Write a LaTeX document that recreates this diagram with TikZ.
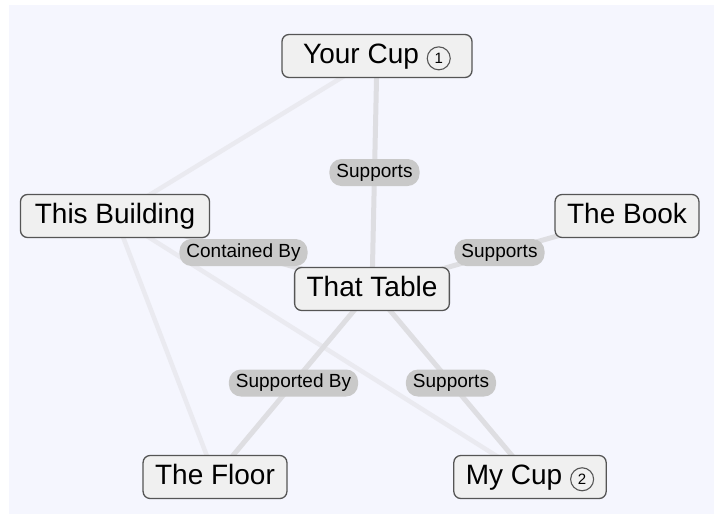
\documentclass[tikz,border=0pt]{standalone}
\usepackage{fontspec}
\setmainfont{Liberation Sans}
\definecolor{panel}{RGB}{245,246,254}
\definecolor{boxfill}{RGB}{240,240,240}
\definecolor{boxline}{RGB}{85,85,85}
\definecolor{pill}{RGB}{201,201,201}
\definecolor{tiecolor}{RGB}{222,222,226}
\definecolor{faintcolor}{RGB}{234,234,240}
\pgfdeclarelayer{back}
\pgfsetlayers{back,main}
\newcommand{\numring}[1]{\tikz[baseline=(n.base)]\node (n) [circle,
  draw=boxline,line width=1.1pt,minimum size=23pt,inner sep=0pt,
  font=\fontsize{15}{15}\selectfont] {#1};}
\tikzset{
  thing/.style={draw=boxline,line width=1.3pt,fill=boxfill,
    rounded corners=7pt,font=\fontsize{28}{30}\selectfont,
    text height=20pt,text depth=5pt,inner xsep=12pt,inner ysep=9pt},
  rel/.style={fill=pill,rounded corners=12pt,
    font=\fontsize{19}{20}\selectfont,inner xsep=7pt,
    minimum height=27pt,text height=13.5pt,text depth=4pt},
  tie/.style={draw=tiecolor,line width=5pt},
  faint/.style={draw=faintcolor,line width=4.5pt},
}

\begin{document}
\begin{tikzpicture}[x=1pt,y=-1pt]
\useasboundingbox (0,0) rectangle (714,514);

\node [thing,minimum width=190pt] (cup1) at (377,56) {Your Cup \numring{1}};
\node [thing,minimum width=189pt] (building) at (115,216) {This Building};
\node [thing] (book) at (627,216) {The Book};
\node [thing] (table) at (372,289) {That Table};
\node [thing] (floor) at (215,477) {The Floor};
\node [thing] (cup2) at (530,477) {My Cup \numring{2}};

\begin{pgfonlayer}{back}
\fill [panel] (9,5) rectangle (714,514);
% links with no label
\draw [faint] (cup1.center) -- (building.center);
\draw [faint] (building.center) -- (floor.center);
\draw [faint] (building.center) -- (cup2.center);
% labelled links
\draw [tie] (cup1.center) -- node [rel] {Supports} (table.center);
\draw [tie] (building.center) -- node [rel] {Contained By} (table.center);
\draw [tie] (table.center) -- node [rel] {Supports} (book.center);
\draw [tie] (table.center) -- node [rel] {Supported By} (floor.center);
\draw [tie] (table.center) -- node [rel] {Supports} (cup2.center);
\end{pgfonlayer}
\end{tikzpicture}
\end{document}
